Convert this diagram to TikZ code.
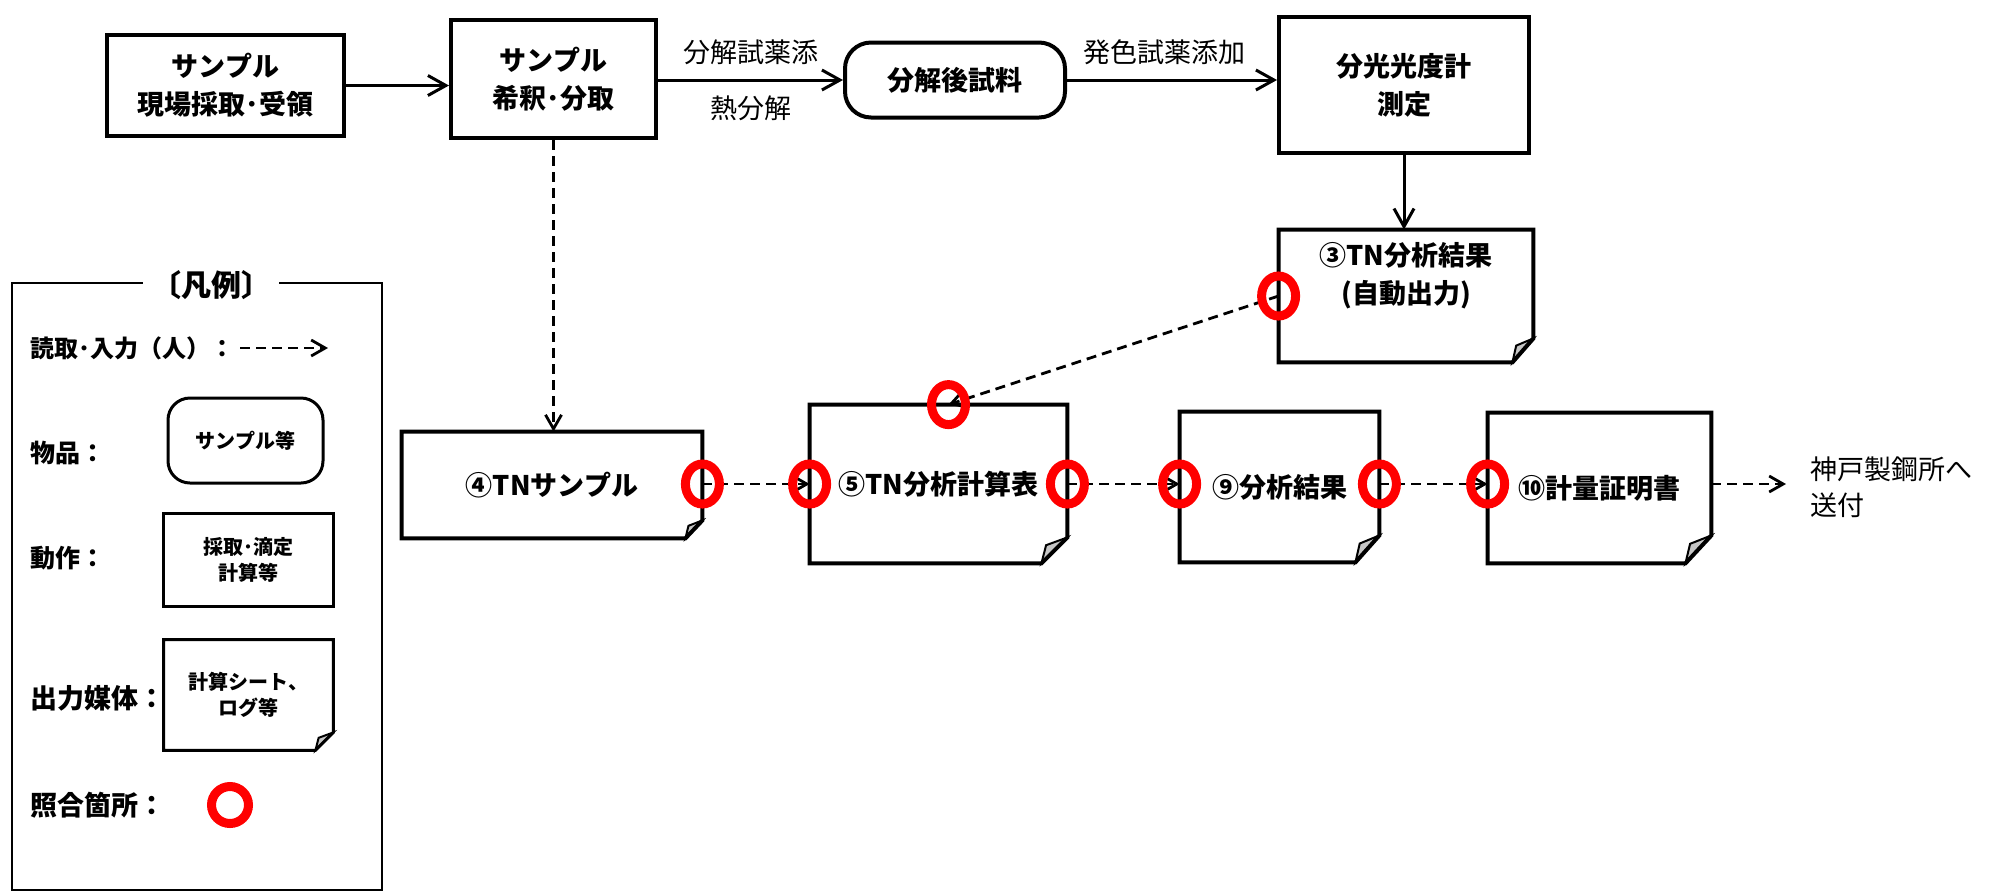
\documentclass[tikz,border=0pt]{standalone}
\usepackage{fontspec}
\setmainfont{Noto Sans CJK JP}
\usetikzlibrary{arrows.meta,calc}
\newcommand\mydoc[4]{%
  \filldraw[foldln] ($(#1.south east)+(-#2,0)$) -- ($(#1.south east)+(-0.82*#2,-0.7*#3)$) -- ($(#1.south east)+(0,-#3)$) -- cycle;
  \draw[line width=#4, line join=miter] (#1.north west) -- (#1.north east) -- ($(#1.south east)+(0,-#3)$) -- ($(#1.south east)+(-#2,0)$) -- (#1.south west) -- cycle;
}
\tikzset{
  every node/.style={inner sep=0pt},
  mtxt/.style={font=\fontsize{13.5}{19}\selectfont\bfseries, align=center},
  box/.style={mtxt, draw, line width=2pt},
  rbox/.style={box, rounded corners=13pt},
  doc/.style={mtxt},
  sz/.style 2 args={minimum width=#1*0.5pt, minimum height=#2*0.5pt},
  lbl/.style={font=\fontsize{13.5}{18}\selectfont},
  arr/.style={line width=1.5pt, -{Straight Barb[length=9pt,width=10pt]}},
  darr/.style={line width=1.4pt, dash pattern=on 5pt off 3pt, -{Straight Barb[length=7pt,width=8pt]}},
  foldln/.style={fill=gray!45, draw=black, line width=1pt},
  chk/.style={draw=red, line width=4.5pt},
  leg/.style={font=\fontsize{12.5}{15}\selectfont\bfseries},
  legin/.style={font=\fontsize{10}{13}\selectfont\bfseries, align=center},
}
\begin{document}
\begin{tikzpicture}[x=0.5pt,y=-0.5pt]
\useasboundingbox (0,0) rectangle (2002,891);
% main process nodes
\node[box, sz={237}{101}] (b1) at (225.5,85.5) {サンプル\\現場採取･受領};
\node[box, sz={205}{118}] (b2) at (553.5,79) {サンプル\\希釈･分取};
\node[rbox, sz={220}{75}] (b3) at (955,80) {分解後試料};
\node[box, sz={250}{136}] (b4) at (1404,85) {分光光度計\\測定};
\node[doc, sz={254}{132}] (n3) at (1406,296) {③TN分析結果\\(自動出力)\\[4pt]};
\node[doc, sz={300}{106}] (n4) at (552,485) {④TNサンプル};
\node[doc, sz={257}{158}] (n5) at (938.5,484) {⑤TN分析計算表};
\node[doc, sz={199}{150}] (n9) at (1279.5,487) {⑨分析結果};
\node[doc, sz={223}{150}] (n10) at (1599.5,488) {⑩計量証明書};
\node[lbl, anchor=west, align=left] (dest) at (1810,487) {神戸製鋼所へ\\送付};
\mydoc{n3}{21}{24}{2pt}
\mydoc{n4}{17}{18}{2pt}
\mydoc{n5}{26}{26}{2pt}
\mydoc{n9}{24}{27}{2pt}
\mydoc{n10}{26}{28}{2pt}
% connectors
\coordinate (row) at (0,484);
\draw[arr] (b1.east) -- (b1.east -| b2.west);
\draw[arr] (b2.east |- b3.west) -- node[lbl, yshift=14pt] (l1) {分解試薬添} node[lbl, yshift=-14pt] (l2) {熱分解} (b3.west);
\draw[arr] (b3.east) -- node[lbl, yshift=14pt, xshift=-4pt] (l3) {発色試薬添加} (b3.east -| b4.west);
\draw[arr] (b4.south) -- (b4.south |- n3.north);
\draw[darr] (b2.south) -- (b2.south |- n4.north);
\draw[darr] (n3.west) -- ($(n5.north)+(10,0)$);
\draw[darr] (n4.east |- row) -- (n5.west |- row);
\draw[darr] (n5.east |- row) -- (n9.west |- row);
\draw[darr] (n9.east |- row) -- (n10.west |- row);
\draw[darr, shorten >=12pt] (n10.east |- row) -- (dest.west |- row);
% check marks
\foreach \p in {n4.east, n5.west, n5.east, n9.west, n9.east, n10.west}
  \draw[chk] (\p |- row) ellipse [x radius=8.5pt, y radius=10pt];
\draw[chk] (n3.west) ellipse [x radius=8.5pt, y radius=10pt];
\draw[chk] ($(n5.north)+(10,0)$) ellipse [x radius=8.5pt, y radius=10pt];
% legend
\draw[line width=1pt] (12,283) rectangle (382,890);
\node[font=\fontsize{15}{17}\selectfont\bfseries, fill=white, inner xsep=4pt, inner ysep=2pt] (lt) at (211,285) {〔凡例〕};
\node[leg, anchor=west, font=\fontsize{12}{14}\selectfont\bfseries] (lg1) at (30,348) {読取･入力（人）：};
\coordinate (la0) at (240,348);
\coordinate (la1) at (328,348);
\draw[darr] (la0) -- (la1);
\node[leg, anchor=west] (lg2) at (30,453) {物品：};
\node[legin, draw, line width=1.5pt, rounded corners=11pt, sz={155}{85}] (lb2) at (245.5,440.5) {サンプル等};
\node[leg, anchor=west] (lg3) at (30,558) {動作：};
\node[legin, draw, line width=1.5pt, sz={170}{93}] (lb3) at (248,559.5) {採取･滴定\\計算等};
\node[leg, anchor=west, font=\fontsize{13.5}{15}\selectfont\bfseries] (lg4) at (30,698) {出力媒体：};
\node[legin, sz={169}{110}] (lb4) at (248.5,695) {計算シート、\\ログ等};
\mydoc{lb4}{18}{18}{1.5pt}
\node[leg, anchor=west, font=\fontsize{13.5}{15}\selectfont\bfseries] (lg5) at (30,805) {照合箇所：};
\draw[draw=red, line width=4.5pt] (230,805) circle [radius=9.25pt];
\end{tikzpicture}
\end{document}
